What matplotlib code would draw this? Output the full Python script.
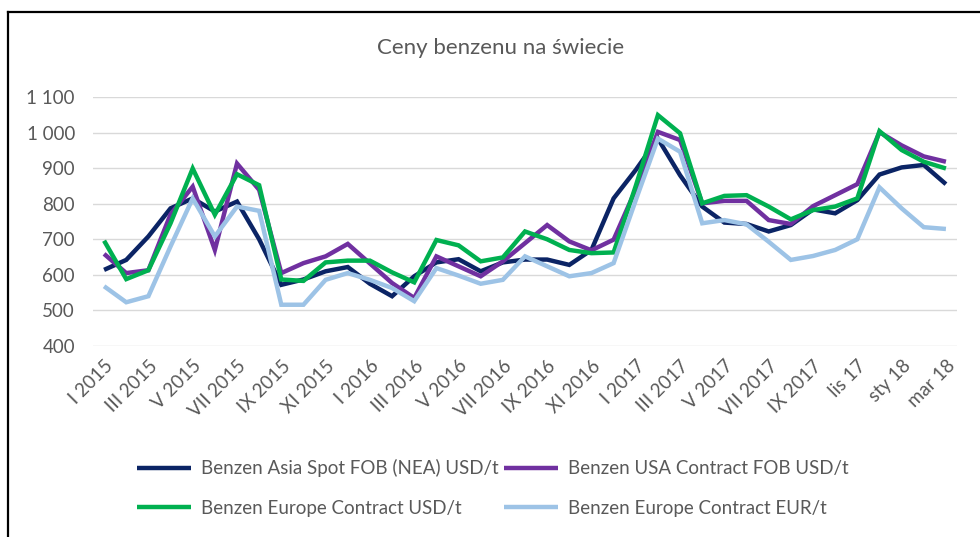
import matplotlib
matplotlib.use('Agg')
import matplotlib.pyplot as plt
from matplotlib.lines import Line2D

# miesiące I 2015 - III 2018
miesiace = list(range(39))
etykiety = ['I 2015', 'III 2015', 'V 2015', 'VII 2015', 'IX 2015', 'XI 2015',
            'I 2016', 'III 2016', 'V 2016', 'VII 2016', 'IX 2016', 'XI 2016',
            'I 2017', 'III 2017', 'V 2017', 'VII 2017', 'IX 2017',
            'lis 17', 'sty 18', 'mar 18']

asia_usd = [614, 642, 708, 787, 815, 778, 806, 700, 572, 587, 610, 622, 575,
            540, 596, 635, 644, 610, 635, 643, 643, 628, 670, 815, 895, 983,
            880, 792, 747, 743, 722, 740, 784, 773, 810, 882, 902, 909, 855]
usa_usd = [659, 605, 613, 770, 848, 670, 913, 839, 605, 633, 652, 687, 632,
           577, 535, 652, 624, 596, 638, 689, 740, 694, 669, 699, 840, 1002,
           979, 801, 808, 808, 754, 743, 793, 824, 855, 1001, 964, 933, 918]
europa_usd = [696, 588, 613, 745, 899, 769, 883, 852, 587, 583, 635, 640, 640,
              607, 579, 698, 683, 638, 649, 722, 700, 670, 661, 663, 850, 1049,
              998, 801, 822, 824, 792, 756, 782, 792, 815, 1004, 951, 918, 899]
europa_eur = [568, 523, 540, 680, 815, 708, 792, 780, 516, 516, 586, 605, 586,
              563, 526, 619, 598, 575, 586, 652, 624, 596, 605, 633, 810, 983,
              946, 745, 754, 742, 693, 642, 653, 670, 700, 846, 787, 734, 729]

serie = [
    ('Benzen Asia Spot FOB (NEA) USD/t', asia_usd, '#0B2465'),
    ('Benzen USA Contract FOB USD/t', usa_usd, '#7030A0'),
    ('Benzen Europe Contract USD/t', europa_usd, '#00B050'),
    ('Benzen Europe Contract EUR/t', europa_eur, '#9DC3E6'),
]

plt.rcParams['font.family'] = ['Lato', 'DejaVu Sans']
szary = '#595959'

fig = plt.figure(figsize=(9.8, 5.37), dpi=100)
ax = fig.add_axes([93 / 980, 1 - 346 / 537, 864 / 980, 249 / 537])

linie = {}
for nazwa, wartosci, kolor in serie:
    linie[nazwa], = ax.plot(miesiace, wartosci, color=kolor, lw=3.2,
                            solid_joinstyle='miter', solid_capstyle='butt', label=nazwa)

ax.set_xlim(-0.5, 38.5)
ax.set_ylim(400, 1100)
ax.set_yticks(range(400, 1101, 100))
ax.set_yticklabels([f'{v:,}'.replace(',', ' ') for v in range(400, 1101, 100)])
ax.grid(axis='y', color='#D9D9D9', lw=1)
ax.set_axisbelow(True)
for s in ax.spines.values():
    s.set_visible(False)
ax.tick_params(axis='y', length=0, pad=13, labelsize=13.5, labelcolor=szary)
ax.set_xticks(miesiace[::2])
ax.set_xticklabels(etykiety, rotation=45, ha='right', va='top',
                   rotation_mode='anchor')
ax.tick_params(axis='x', length=0, pad=8, labelsize=13.5, labelcolor=szary)

fig.text(501 / 980, 1 - 48 / 537, 'Ceny benzenu na świecie', ha='center',
         va='center', fontsize=16, color=szary)

kolejnosc = [serie[0][0], serie[2][0], serie[1][0], serie[3][0]]
fig.legend([linie[n] for n in kolejnosc], kolejnosc, ncol=2, frameon=False,
           loc='center left', bbox_to_anchor=(120 / 980, 1 - 488 / 537),
           fontsize=13.5, labelcolor=szary, handlelength=2.9, handletextpad=0.5,
           columnspacing=0.3, labelspacing=1.2)

# ramka obszaru wykresu
fig.add_artist(Line2D([8 / 980, 8 / 980], [0, 1 - 12 / 537], color='black', lw=1.6,
                      transform=fig.transFigure))
fig.add_artist(Line2D([8 / 980, 1], [1 - 12 / 537, 1 - 12 / 537], color='black', lw=1.6,
                      transform=fig.transFigure))

fig.savefig('out.png', dpi=100)
